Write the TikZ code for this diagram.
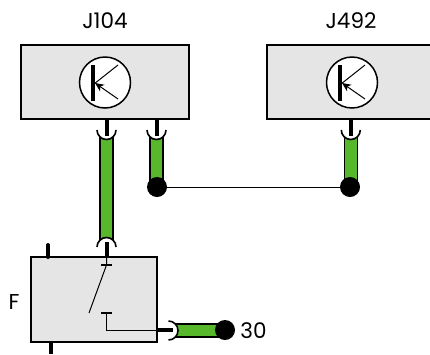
\documentclass[tikz,border=0pt]{standalone}
\usepackage{fontspec}
\setmainfont{Poppins}
\usetikzlibrary{arrows.meta}
\tikzset{
  x=1pt,y=-1pt,
  ecu/.style={draw=black,line width=1.6pt,fill=black!10,rectangle,inner sep=0pt,outer sep=0pt},
  lab/.style={font=\fontsize{21.5}{24}\selectfont,text=black,inner sep=0pt},
  tcircle/.style={circle,draw=black,line width=1.5pt,fill=white,minimum size=51pt,inner sep=0pt},
  stub/.style={line width=4pt,black},
  wire/.style={line width=1.5pt,draw=black,fill=wgreen},
  cup/.style={line width=1.6pt,draw=black,fill=white},
  dotn/.style={circle,fill=black,minimum size=20pt,inner sep=0pt,outer sep=0pt},
  thinl/.style={line width=1pt,black},
  bar/.style={line width=1.1pt,black}
}
\definecolor{wgreen}{RGB}{88,184,44}
\begin{document}
\begin{tikzpicture}
\useasboundingbox (0,0) rectangle (430,354);
\clip (0,0) rectangle (430,354);
% boxes
\node[ecu,minimum width=168pt,minimum height=74pt] (j104) at (105,82) {};
\node[ecu,minimum width=170pt,minimum height=74pt] (j492) at (352,82) {};
\node[ecu,minimum width=126pt,minimum height=85pt] (f) at (94,299.5) {};
\node[lab] (l104) at (105,21) {J104};
\node[lab] (l492) at (351,21) {J492};
\node[lab] (lf) at (14,302) {F};
\node[lab] (l30) at (253.5,331) {30};
% transistors
\foreach \n/\x in {a/105,b/352}{
  \node[tcircle] (t\n) at (\x,82.5) {};
  \draw[line width=4pt] (\x-12,65) -- (\x-12,101);
  \draw[thinl] (\x-11,84) -- (\x+13,65);
  \draw[thinl,-{Stealth[length=9pt,width=8pt]}] (\x+13,99) -- (\x-10,83);
}
% wires
\draw[wire] (100,132) rectangle (113,244);
\draw[wire] (150,132) rectangle (163,187);
\draw[wire] (344.5,132) rectangle (357.5,187);
\draw[wire] (172,324) rectangle (225,337);
% cups and stubs
\foreach \x in {106.5,156.5,350.8}{
  \draw[cup] (\x-9.5,130) arc[start angle=180,end angle=0,radius=9.5];
  \draw[stub] (\x,119) -- (\x,136);
}
\draw[cup] (97,247) arc[start angle=180,end angle=360,radius=9.5];
\draw[stub] (106.5,257) -- (106.5,242);
\draw[cup] (168.5,321) arc[start angle=-90,end angle=90,radius=9.5];
\draw[stub] (157,330) -- (173,330);
\draw[stub,line cap=round] (48,257) -- (48,245);
\draw[stub] (50.5,342) -- (50.5,354);
% dots
\node[dotn] (d1) at (157,187) {};
\node[dotn] (d2) at (350,187) {};
\node[dotn] (d3) at (225,330) {};
\draw[thinl] (d1) -- (d2);
% switch
\coordinate (ctop) at (106.5,265);
\coordinate (cbot) at (106.5,313);
\draw[bar] (101,265) -- (112,265);
\draw[bar] (101,313) -- (112,313);
\draw[thinl] (106.5,257) -- (ctop) -- (89,313);
\draw[thinl] (cbot) -- (106.5,330) -- (157,330);
\end{tikzpicture}
\end{document}
